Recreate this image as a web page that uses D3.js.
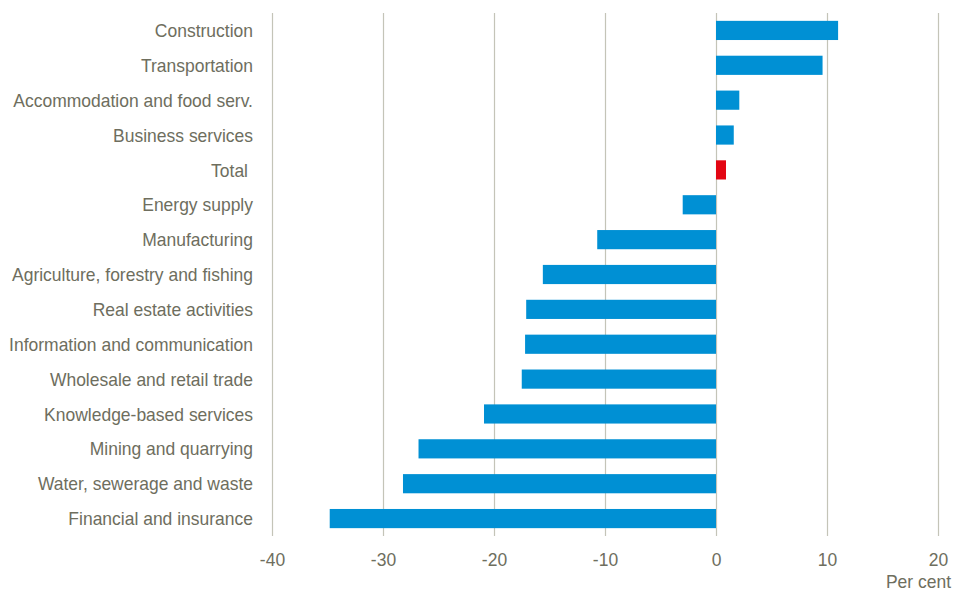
<!DOCTYPE html>
<html>
<head>
<meta charset="utf-8">
<script src="https://cdn.jsdelivr.net/npm/d3@7"></script>
<style>
  html, body { margin: 0; padding: 0; background: #ffffff; }
  svg { display: block; }
  text { font-family: "Liberation Sans Narrow", "Arial Narrow", "Liberation Sans", Arial, sans-serif; fill: #6e6e5e; }
</style>
</head>
<body>
<svg id="chart" width="958" height="595"></svg>
<script>
// Change by industry, per cent
const industries = [
  "Construction", "Transportation", "Accommodation and food serv.", "Business services",
  "Total", "Energy supply", "Manufacturing", "Agriculture, forestry and fishing",
  "Real estate activities", "Information and communication", "Wholesale and retail trade",
  "Knowledge-based services", "Mining and quarrying", "Water, sewerage and waste",
  "Financial and insurance"
];
const changes = [11.0, 9.6, 2.1, 1.6, 0.9, -3.0, -10.7, -15.6, -17.1, -17.2, -17.5, -20.9, -26.8, -28.2, -34.8];
const highlighted = ["Total"];
const xTicks = [-40, -30, -20, -10, 0, 10, 20];
const unitLabel = "Per cent";

const svg = d3.select("#chart");

const x = d3.scaleLinear().domain([-40, 20]).range([272, 938]);
const y = d3.scaleBand().domain(industries).range([13, 536]).paddingInner(0.45).paddingOuter(0.225);

// condensed look: squeeze each text horizontally
const squeeze = 0.92;
function condense(sel) {
  sel.each(function () {
    const w = this.getComputedTextLength();
    d3.select(this).attr("textLength", w * squeeze).attr("lengthAdjust", "spacingAndGlyphs");
  });
}

// vertical gridlines with short ticks below the plot
svg.append("g")
  .selectAll("line")
  .data(xTicks)
  .join("line")
  .attr("x1", d => Math.round(x(d)) + 0.5)
  .attr("x2", d => Math.round(x(d)) + 0.5)
  .attr("y1", 13)
  .attr("y2", 536)
  .attr("stroke", "#c4c4b8")
  .attr("stroke-width", 1.2);

const data = industries.map((name, i) => ({ name, value: changes[i] }));

svg.append("g")
  .selectAll("rect")
  .data(data)
  .join("rect")
  .attr("x", d => x(Math.min(0, d.value)))
  .attr("width", d => Math.abs(x(d.value) - x(0)))
  .attr("y", d => y(d.name))
  .attr("height", y.bandwidth())
  .attr("fill", d => highlighted.includes(d.name) ? "#e30613" : "#0090d4");

// category labels
svg.append("g")
  .selectAll("text")
  .data(industries)
  .join("text")
  .attr("x", d => highlighted.includes(d) ? 248 : 253)
  .attr("y", d => y(d) + y.bandwidth() / 2)
  .attr("dy", "0.35em")
  .attr("text-anchor", "end")
  .attr("font-size", 19)
  .text(d => d)
  .call(condense);

// x axis tick labels (plain hyphen for negatives)
const xAxis = d3.axisBottom(x).tickValues(xTicks).tickSize(0).tickPadding(0)
  .tickFormat(d => String(d));
const gx = svg.append("g").attr("transform", "translate(0,553)").call(xAxis);
gx.attr("font-family", null).attr("font-size", null);
gx.select(".domain").remove();
gx.selectAll("text")
  .attr("font-size", 19)
  .attr("dy", "0.7em")
  .attr("fill", null)
  .call(condense);

svg.append("text")
  .attr("x", 951)
  .attr("y", 588)
  .attr("text-anchor", "end")
  .attr("font-size", 19)
  .text(unitLabel)
  .call(condense);
</script>
</body>
</html>
